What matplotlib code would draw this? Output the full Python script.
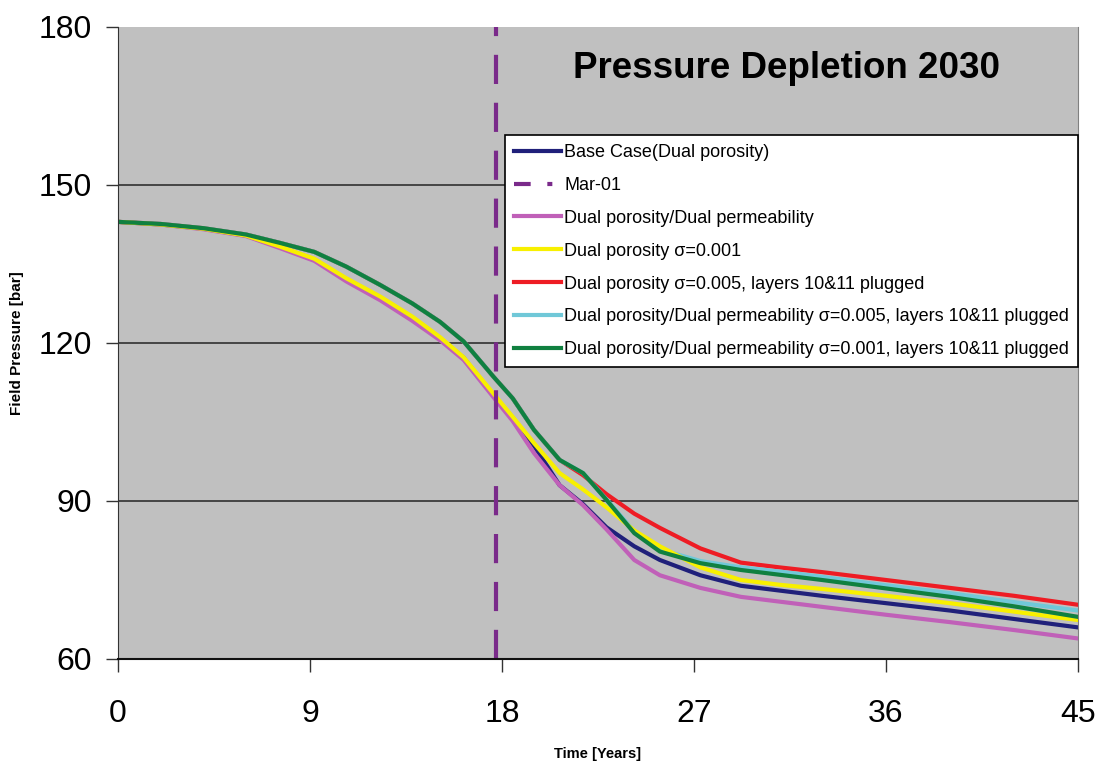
import matplotlib
matplotlib.use("Agg")
import matplotlib.pyplot as plt
from matplotlib.lines import Line2D

plt.rcParams['font.family'] = ['Liberation Sans', 'DejaVu Sans']

years = [0, 2, 4, 6, 7.6, 9.2, 10.7, 12.3, 13.8, 15.1, 16.2, 17.6, 18.5, 19.5, 20.7, 21.8,
         22.9, 24.2, 25.4, 27.3, 29.2, 31, 33, 36, 39, 42, 45]

base_case = [143, 142.5, 141.7, 140.4, 138.2, 135.8, 132.0, 128.4, 124.5, 120.8, 117.2, 110.0, 105.8,
             100.5, 93.0, 89.4, 85.0, 81.4, 78.8, 75.9, 73.9, 73.0, 72.0, 70.6, 69.2, 67.6, 66.0]
dp_dperm = [143, 142.5, 141.6, 140.3, 138.0, 135.6, 131.7, 128.1, 124.2, 120.5, 116.8, 109.7, 105.2,
            99.1, 93.0, 89.2, 84.6, 78.8, 75.9, 73.5, 71.8, 70.9, 69.9, 68.4, 67.0, 65.5, 63.9]
dp_s001 = [143, 142.5, 141.7, 140.4, 138.3, 136.0, 132.3, 128.8, 125.0, 121.1, 117.3, 110.4, 106.0,
           101.0, 95.3, 92.2, 88.8, 84.4, 81.4, 77.4, 75.0, 74.1, 73.3, 72.0, 70.6, 69.0, 67.4]
dp_s005_plug = [143, 142.6, 141.8, 140.6, 139.0, 137.3, 134.5, 131.0, 127.5, 124.0, 120.3, 113.6, 109.5,
                103.5, 97.8, 94.9, 91.3, 87.6, 84.9, 81.0, 78.3, 77.4, 76.5, 75.0, 73.5, 72.0, 70.3]
dpdp_s005_plug = [143, 142.6, 141.8, 140.6, 139.0, 137.3, 134.5, 131.0, 127.5, 124.0, 120.3, 113.6, 109.5,
                  103.5, 97.8, 95.3, 90.3, 84.2, 80.8, 78.6, 77.4, 76.6, 75.6, 74.0, 72.5, 70.8, 69.2]
dpdp_s001_plug = [143, 142.6, 141.8, 140.6, 139.0, 137.3, 134.5, 131.0, 127.5, 124.0, 120.3, 113.6, 109.5,
                  103.5, 97.8, 95.3, 90.2, 83.9, 80.4, 78.2, 76.9, 76.0, 75.0, 73.4, 71.8, 70.0, 68.0]

mar01_year = 17.7

labels = ["Base Case(Dual porosity)", "Mar-01", "Dual porosity/Dual permeability",
          "Dual porosity \u03c3=0.001", "Dual porosity \u03c3=0.005, layers 10&11 plugged",
          "Dual porosity/Dual permeability \u03c3=0.005, layers 10&11 plugged",
          "Dual porosity/Dual permeability \u03c3=0.001, layers 10&11 plugged"]
colors = ["#20207A", "#7A2A8A", "#C060B8", "#F8F000", "#EE1C24", "#70C8D8", "#108040"]

xticks = [0, 9, 18, 27, 36, 45]
yticks = [60, 90, 120, 150, 180]

fig = plt.figure(figsize=(11.05, 7.67), dpi=100)
ax = fig.add_axes([118/1105, 1-659/767, (1078-118)/1105, (659-27)/767])
ax.set_facecolor("#C0C0C0")

lw = 3
order_draw = [(dp_s005_plug, 4), (dpdp_s005_plug, 5), (base_case, 0), (dp_dperm, 2),
              (dp_s001, 3), (dpdp_s001_plug, 6)]
for ys, ci in order_draw:
    ax.plot(years, ys, color=colors[ci], lw=lw, solid_joinstyle='round')

ax.axvline(mar01_year, color=colors[1], lw=3, dashes=(7, 4.5))

ax.set_xlim(0, 45)
ax.set_ylim(60, 180)
ax.set_xticks(xticks)
ax.set_yticks(yticks)
ax.tick_params(axis='both', labelsize=23, direction='out', length=9, width=1, color='#333333')
ax.tick_params(axis='x', pad=20)
ax.tick_params(axis='y', pad=10)
for y in [90, 120, 150]:
    ax.axhline(y, color='#303030', lw=1.2, zorder=0.5)
ax.spines['top'].set_visible(False)
ax.spines['right'].set_color('#808080')
ax.spines['left'].set_color('#333333')
ax.spines['bottom'].set_color('#111111')
ax.spines['bottom'].set_linewidth(1.5)

ax.set_ylabel("Field Pressure [bar]", fontsize=11, fontweight='bold')
ax.yaxis.set_label_coords(-0.098, 0.5)
ax.set_xlabel("Time [Years]", fontsize=10.5, fontweight='bold')
ax.xaxis.set_label_coords(0.5, -0.14)

ax.text(0.696, 0.935, "Pressure Depletion 2030", transform=ax.transAxes, ha='center', va='center',
        fontsize=26.5, fontweight='bold')

handles = []
for i, lab in enumerate(labels):
    if i == 1:
        handles.append(Line2D([], [], color=colors[i], lw=3, dashes=(4, 4, 1.2, 4)))
    else:
        handles.append(Line2D([], [], color=colors[i], lw=3))
leg = ax.legend(handles, labels, loc='upper right', bbox_to_anchor=(1.0, (659-135)/632),
                fontsize=13, frameon=True, fancybox=False, framealpha=1, edgecolor='black',
                handlelength=2.6, handletextpad=0.15, labelspacing=0.88, borderaxespad=0,
                borderpad=0.5)
leg.get_frame().set_linewidth(1.2)

fig.savefig("out.png", dpi=100, facecolor='white')
